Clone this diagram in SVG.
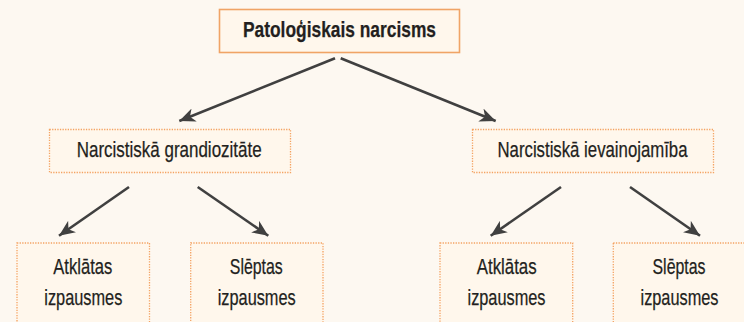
<svg xmlns="http://www.w3.org/2000/svg" width="744" height="322" viewBox="0 0 744 322">
<defs>
<marker id="ah" markerUnits="userSpaceOnUse" markerWidth="17" markerHeight="14" refX="16" refY="7" orient="auto" viewBox="0 0 17 14">
<path d="M0,0 L16,7 L0,14 L4.5,7 Z" fill="#404040"/>
</marker>
</defs>
<style>
.bg{fill:#fdf8f1}
.top{fill:#fff7ec;stroke:#f0a466;stroke-width:1.6}
.box{fill:#fff7ec;stroke:#f4a262;stroke-width:1.3;stroke-dasharray:1.3 1.3}
.t{font-family:"Liberation Sans Narrow","Liberation Sans",Arial,sans-serif;font-size:22px;fill:#231f20;stroke:#231f20;stroke-width:0.25;text-anchor:middle}
.b{font-weight:bold}
.c line{stroke:#404040;stroke-width:2.6;marker-end:url(#ah)}
</style>
<rect class="bg" x="0" y="0" width="744" height="322"/>
<g id="n-root">
<rect class="top" x="219.5" y="9.5" width="240" height="43"/>
<text class="t b" x="339.5" y="37" textLength="193" lengthAdjust="spacingAndGlyphs">Patoloģiskais narcisms</text>
</g>
<g id="n-grand">
<rect class="box" x="49.5" y="129.5" width="241" height="43"/>
<text class="t" x="169.2" y="156.5" textLength="185" lengthAdjust="spacingAndGlyphs">Narcistiskā grandiozitāte</text>
</g>
<g id="n-ievain">
<rect class="box" x="472.5" y="129.5" width="241" height="43"/>
<text class="t" x="592.5" y="156.5" textLength="190" lengthAdjust="spacingAndGlyphs">Narcistiskā ievainojamība</text>
</g>
<g id="n-atkl1">
<rect class="box" x="17" y="243" width="132.5" height="90"/>
<text class="t" x="82.8" y="274" textLength="59" lengthAdjust="spacingAndGlyphs">Atklātas</text>
<text class="t" x="83.3" y="305" textLength="78" lengthAdjust="spacingAndGlyphs">izpausmes</text>
</g>
<g id="n-slep1">
<rect class="box" x="190.7" y="243" width="132.3" height="90"/>
<text class="t" x="256.3" y="274" textLength="53" lengthAdjust="spacingAndGlyphs">Slēptas</text>
<text class="t" x="256.7" y="305" textLength="78" lengthAdjust="spacingAndGlyphs">izpausmes</text>
</g>
<g id="n-atkl2">
<rect class="box" x="440" y="243" width="132.7" height="90"/>
<text class="t" x="506.7" y="274" textLength="60" lengthAdjust="spacingAndGlyphs">Atklātas</text>
<text class="t" x="506.5" y="305" textLength="78" lengthAdjust="spacingAndGlyphs">izpausmes</text>
</g>
<g id="n-slep2">
<rect class="box" x="613.3" y="243" width="133" height="90"/>
<text class="t" x="679" y="274" textLength="53" lengthAdjust="spacingAndGlyphs">Slēptas</text>
<text class="t" x="679.5" y="305" textLength="78" lengthAdjust="spacingAndGlyphs">izpausmes</text>
</g>
<g id="connectors" class="c">
<line x1="335" y1="58.3" x2="179.3" y2="121"/>
<line x1="340.7" y1="58.3" x2="495.7" y2="121"/>
<line x1="129" y1="187" x2="59" y2="235.7"/>
<line x1="197.7" y1="187" x2="268.3" y2="235.7"/>
<line x1="561" y1="187" x2="490.7" y2="235.7"/>
<line x1="630" y1="187" x2="700" y2="235.7"/>
</g>
</svg>
